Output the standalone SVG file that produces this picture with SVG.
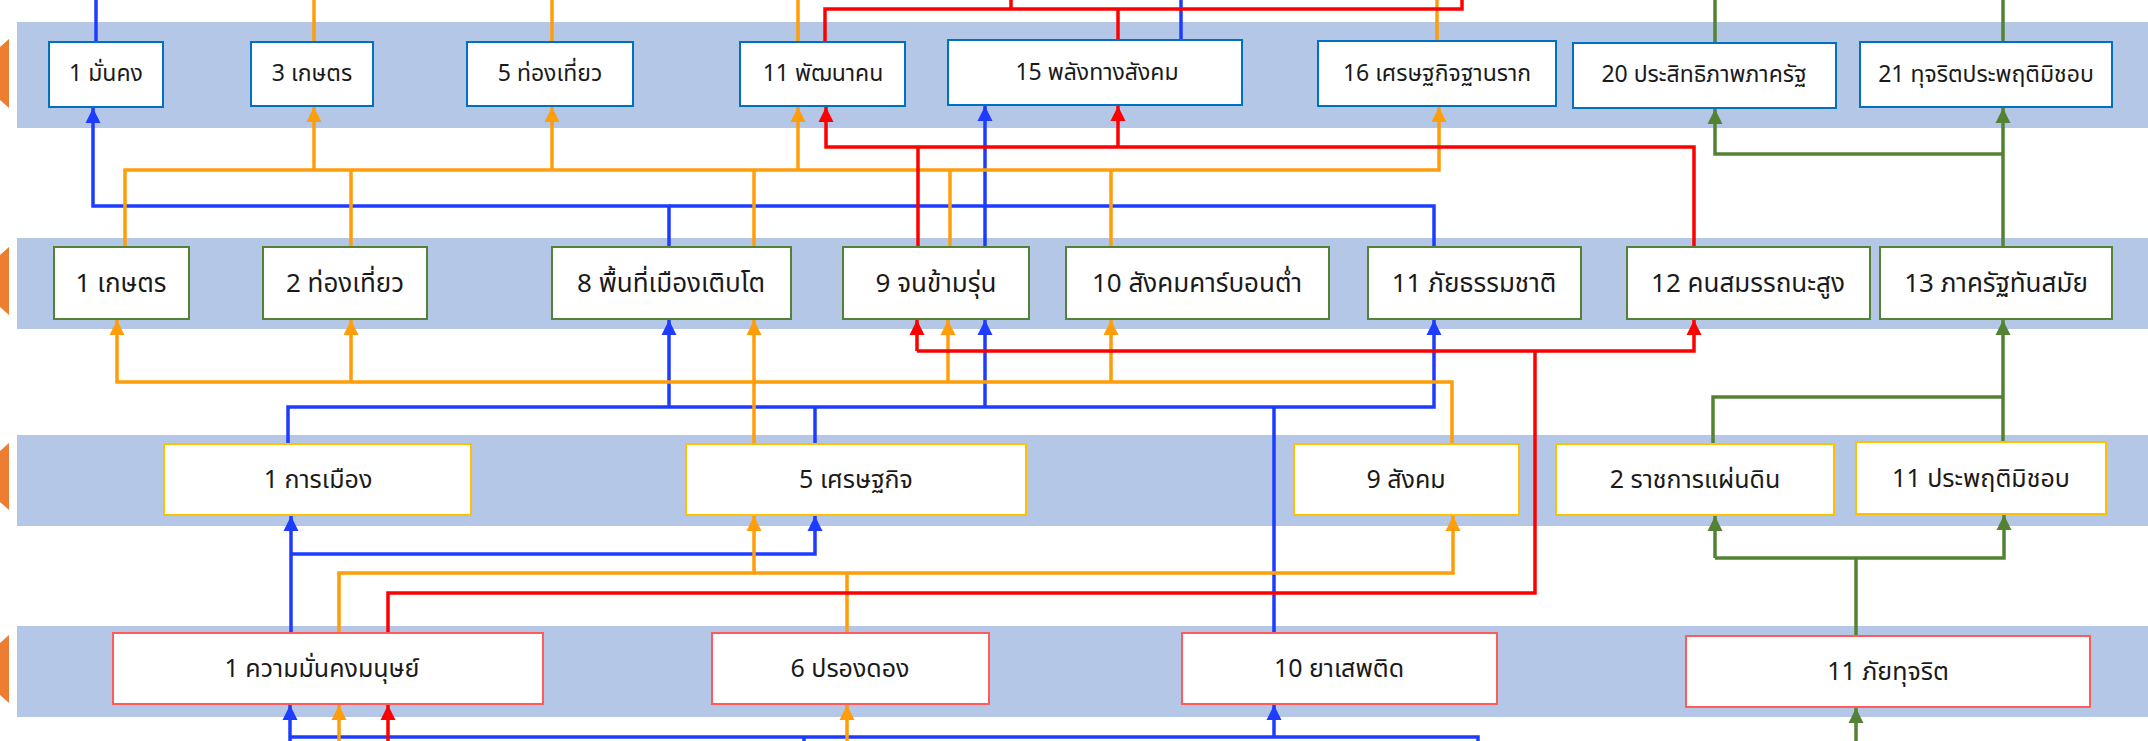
<svg xmlns="http://www.w3.org/2000/svg" width="2148" height="741" viewBox="0 0 2148 741">
<style>
.band{fill:#B4C7E7}
.tab{fill:#ED7D31}
.box{fill:#FFFFFF;stroke-width:2}
.r1{stroke:#0070C0}
.r2{stroke:#548235}
.r3{stroke:#FFC000}
.r4{stroke:#FF5B5B}
text{font-family:"Leelawadee UI","Tahoma","Noto Sans Thai","Noto Sans","DejaVu Sans",sans-serif;fill:#1A1A1A;text-anchor:middle}
.t1{font-size:23px}
.t2{font-size:26px}
.t3{font-size:25px}
.c{fill:none;stroke-width:3.5;stroke-linejoin:miter}
.bl{stroke:#1E3CFF}
.or{stroke:#FF9D0A}
.rd{stroke:#FF0000}
.gr{stroke:#548235}
</style>
<defs>
<marker id="mb" viewBox="0 0 10 10" refX="10" refY="5" markerWidth="15" markerHeight="17" markerUnits="userSpaceOnUse" orient="auto"><path d="M0,0 L10,5 L0,10 z" fill="#1E3CFF"/></marker>
<marker id="mo" viewBox="0 0 10 10" refX="10" refY="5" markerWidth="15" markerHeight="17" markerUnits="userSpaceOnUse" orient="auto"><path d="M0,0 L10,5 L0,10 z" fill="#FF9D0A"/></marker>
<marker id="mr" viewBox="0 0 10 10" refX="10" refY="5" markerWidth="15" markerHeight="17" markerUnits="userSpaceOnUse" orient="auto"><path d="M0,0 L10,5 L0,10 z" fill="#FF0000"/></marker>
<marker id="mg" viewBox="0 0 10 10" refX="10" refY="5" markerWidth="15" markerHeight="17" markerUnits="userSpaceOnUse" orient="auto"><path d="M0,0 L10,5 L0,10 z" fill="#548235"/></marker>
</defs>
<rect width="2148" height="741" fill="#FFFFFF"/>
<g id="bands">
<rect class="band" x="17" y="22" width="2131" height="106"/>
<rect class="band" x="17" y="238" width="2131" height="91"/>
<rect class="band" x="17" y="435" width="2131" height="91"/>
<rect class="band" x="17" y="626" width="2131" height="91"/>
<polygon class="tab" points="9,39 9,108 0,100 0,47"/>
<polygon class="tab" points="9,247 9,315 0,307 0,255"/>
<polygon class="tab" points="9,443 9,510 0,502 0,451"/>
<polygon class="tab" points="9,635 9,703 0,695 0,643"/>
</g>
<g id="connectors">
<!-- blue -->
<path class="c bl" d="M96,0 V42"/>
<path class="c bl" d="M1181,0 V40"/>
<path class="c bl" d="M669,247 V206 H93 V108" marker-end="url(#mb)"/>
<path class="c bl" d="M1434,247 V206 H669"/>
<path class="c bl" d="M985,247 V106" marker-end="url(#mb)"/>
<path class="c bl" d="M288,444 V407 H1434 V320" marker-end="url(#mb)"/>
<path class="c bl" d="M669,407 V320" marker-end="url(#mb)"/>
<path class="c bl" d="M985,407 V320" marker-end="url(#mb)"/>
<path class="c bl" d="M815,444 V407"/>
<path class="c bl" d="M1274,633 V407"/>
<path class="c bl" d="M291,633 V516" marker-end="url(#mb)"/>
<path class="c bl" d="M291,554 H815 V516" marker-end="url(#mb)"/>
<path class="c bl" d="M290,741 V705" marker-end="url(#mb)"/>
<path class="c bl" d="M290,737 H1478 V741"/>
<path class="c bl" d="M804,737 V741"/>
<path class="c bl" d="M1274,737 V705" marker-end="url(#mb)"/>
<!-- orange -->
<path class="c or" d="M314,0 V42"/>
<path class="c or" d="M552,0 V42"/>
<path class="c or" d="M798,0 V42"/>
<path class="c or" d="M1437,0 V41"/>
<path class="c or" d="M125,247 V170 H1439 V107" marker-end="url(#mo)"/>
<path class="c or" d="M314,170 V107" marker-end="url(#mo)"/>
<path class="c or" d="M552,170 V107" marker-end="url(#mo)"/>
<path class="c or" d="M798,170 V107" marker-end="url(#mo)"/>
<path class="c or" d="M351,170 V247"/>
<path class="c or" d="M754,170 V247"/>
<path class="c or" d="M950,170 V247"/>
<path class="c or" d="M1111,170 V247"/>
<path class="c or" d="M1452,444 V382 H117 V320" marker-end="url(#mo)"/>
<path class="c or" d="M351,382 V320" marker-end="url(#mo)"/>
<path class="c or" d="M948,382 V320" marker-end="url(#mo)"/>
<path class="c or" d="M1111,382 V320" marker-end="url(#mo)"/>
<path class="c or" d="M754,444 V320" marker-end="url(#mo)"/>
<path class="c or" d="M339,633 V573 H1453 V516" marker-end="url(#mo)"/>
<path class="c or" d="M754,573 V516" marker-end="url(#mo)"/>
<path class="c or" d="M847,633 V573"/>
<path class="c or" d="M339,741 V705" marker-end="url(#mo)"/>
<path class="c or" d="M847,741 V705" marker-end="url(#mo)"/>
<!-- red -->
<path class="c rd" d="M825,42 V9 H1462 V0"/>
<path class="c rd" d="M1011,9 V0"/>
<path class="c rd" d="M1118,9 V40"/>
<path class="c rd" d="M1694,247 V147 H826 V107" marker-end="url(#mr)"/>
<path class="c rd" d="M1118,147 V106" marker-end="url(#mr)"/>
<path class="c rd" d="M918,247 V147"/>
<path class="c rd" d="M917,351 H1694 V320" marker-end="url(#mr)"/>
<path class="c rd" d="M917,351 V320" marker-end="url(#mr)"/>
<path class="c rd" d="M388,633 V593 H1535 V351"/>
<path class="c rd" d="M388,741 V705" marker-end="url(#mr)"/>
<!-- green -->
<path class="c gr" d="M1715,0 V43"/>
<path class="c gr" d="M2003,0 V42"/>
<path class="c gr" d="M2003,247 V108" marker-end="url(#mg)"/>
<path class="c gr" d="M2003,154 H1715 V109" marker-end="url(#mg)"/>
<path class="c gr" d="M1713,444 V397 H2003"/>
<path class="c gr" d="M2003,442 V320" marker-end="url(#mg)"/>
<path class="c gr" d="M1856,636 V558"/>
<path class="c gr" d="M1715,558 H2004 V515" marker-end="url(#mg)"/>
<path class="c gr" d="M1715,558 V516" marker-end="url(#mg)"/>
<path class="c gr" d="M1856,741 V708" marker-end="url(#mg)"/>
</g>
<!-- row 1 -->
<g id="n1_1"><rect class="box r1" x="49" y="42" width="114" height="65"/><text class="t1" x="106" y="81">1 มั่นคง</text></g>
<g id="n1_3"><rect class="box r1" x="251" y="42" width="122" height="64"/><text class="t1" x="312" y="81">3 เกษตร</text></g>
<g id="n1_5"><rect class="box r1" x="467" y="42" width="166" height="64"/><text class="t1" x="550" y="81">5 ท่องเที่ยว</text></g>
<g id="n1_11"><rect class="box r1" x="740" y="42" width="165" height="64"/><text class="t1" x="823" y="81">11 พัฒนาคน</text></g>
<g id="n1_15"><rect class="box r1" x="948" y="40" width="294" height="65"/><text class="t1" x="1097" y="80">15 พลังทางสังคม</text></g>
<g id="n1_16"><rect class="box r1" x="1318" y="41" width="238" height="65"/><text class="t1" x="1437" y="81">16 เศรษฐกิจฐานราก</text></g>
<g id="n1_20"><rect class="box r1" x="1573" y="43" width="263" height="65"/><text class="t1" x="1704" y="82">20 ประสิทธิภาพภาครัฐ</text></g>
<g id="n1_21"><rect class="box r1" x="1860" y="42" width="252" height="65"/><text class="t1" x="1986" y="82">21 ทุจริตประพฤติมิชอบ</text></g>
<!-- row 2 -->
<g id="n2_1"><rect class="box r2" x="54" y="247" width="135" height="72"/><text class="t2" x="121" y="292">1 เกษตร</text></g>
<g id="n2_2"><rect class="box r2" x="263" y="247" width="164" height="72"/><text class="t2" x="345" y="292">2 ท่องเที่ยว</text></g>
<g id="n2_8"><rect class="box r2" x="552" y="247" width="239" height="72"/><text class="t2" x="671" y="292">8 พื้นที่เมืองเติบโต</text></g>
<g id="n2_9"><rect class="box r2" x="843" y="247" width="186" height="72"/><text class="t2" x="936" y="292">9 จนข้ามรุ่น</text></g>
<g id="n2_10"><rect class="box r2" x="1066" y="247" width="263" height="72"/><text class="t2" x="1197" y="292">10 สังคมคาร์บอนต่ำ</text></g>
<g id="n2_11"><rect class="box r2" x="1368" y="247" width="213" height="72"/><text class="t2" x="1474" y="292">11 ภัยธรรมชาติ</text></g>
<g id="n2_12"><rect class="box r2" x="1627" y="247" width="243" height="72"/><text class="t2" x="1748" y="292">12 คนสมรรถนะสูง</text></g>
<g id="n2_13"><rect class="box r2" x="1880" y="247" width="232" height="72"/><text class="t2" x="1996" y="292">13 ภาครัฐทันสมัย</text></g>
<!-- row 3 -->
<g id="n3_1"><rect class="box r3" x="164" y="444" width="307" height="71"/><text class="t3" x="318" y="488">1 การเมือง</text></g>
<g id="n3_5"><rect class="box r3" x="686" y="444" width="340" height="71"/><text class="t3" x="856" y="488">5 เศรษฐกิจ</text></g>
<g id="n3_9"><rect class="box r3" x="1294" y="444" width="225" height="71"/><text class="t3" x="1406" y="488">9 สังคม</text></g>
<g id="n3_2"><rect class="box r3" x="1556" y="444" width="278" height="71"/><text class="t3" x="1695" y="488">2 ราชการแผ่นดิน</text></g>
<g id="n3_11"><rect class="box r3" x="1856" y="442" width="250" height="72"/><text class="t3" x="1981" y="487">11 ประพฤติมิชอบ</text></g>
<!-- row 4 -->
<g id="n4_1"><rect class="box r4" x="113" y="633" width="430" height="71"/><text class="t3" x="322" y="677">1 ความมั่นคงมนุษย์</text></g>
<g id="n4_6"><rect class="box r4" x="712" y="633" width="277" height="71"/><text class="t3" x="850" y="677">6 ปรองดอง</text></g>
<g id="n4_10"><rect class="box r4" x="1182" y="633" width="315" height="71"/><text class="t3" x="1339" y="677">10 ยาเสพติด</text></g>
<g id="n4_11"><rect class="box r4" x="1686" y="636" width="404" height="71"/><text class="t3" x="1888" y="680">11 ภัยทุจริต</text></g>
</svg>
